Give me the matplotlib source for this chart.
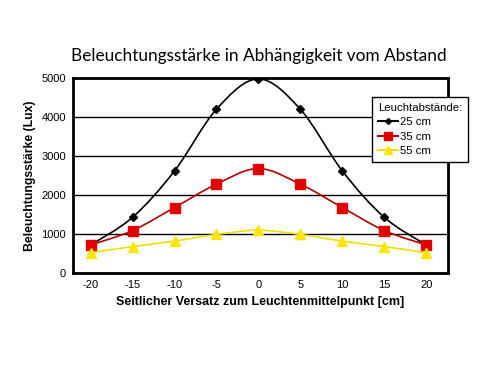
import matplotlib.pyplot as plt
import numpy as np
from matplotlib.path import Path
from matplotlib.patches import PathPatch

# data
versatz = [-20, -15, -10, -5, 0, 5, 10, 15, 20]
lux_25 = [720, 1430, 2620, 4200, 4980, 4200, 2620, 1430, 720]
lux_35 = [720, 1090, 1680, 2280, 2680, 2280, 1680, 1090, 720]
lux_55 = [520, 680, 820, 990, 1100, 990, 820, 680, 520]
labels = ["25 cm", "35 cm", "55 cm"]
yticks = [0, 1000, 2000, 3000, 4000, 5000]

plt.rcParams["axes.unicode_minus"] = False


def smooth_path(x, y, t=0.5):
    # Catmull-Rom -> cubic bezier, drawn by matplotlib's Path
    x = np.asarray(x, float)
    y = np.asarray(y, float)
    pts = np.column_stack([x, y])
    verts = [pts[0]]
    codes = [Path.MOVETO]
    n = len(pts)
    for i in range(n - 1):
        p0 = pts[max(i - 1, 0)]
        p1 = pts[i]
        p2 = pts[i + 1]
        p3 = pts[min(i + 2, n - 1)]
        c1 = p1 + (p2 - p0) * t / 3
        c2 = p2 - (p3 - p1) * t / 3
        verts += [c1, c2, p2]
        codes += [Path.CURVE4] * 3
    return Path(verts, codes)


fig = plt.figure(figsize=(5, 3.7), dpi=100)
ax = fig.add_axes([0.146, 0.262, 0.75, 0.527])

series = [
    (lux_25, "black", "black", "D", 4),
    (lux_35, "#b00000", "#e00000", "s", 7),
    (lux_55, "#f0e000", "#ffe600", "^", 7),
]
for (vals, lc, mc, mk, ms), lab in zip(series, labels):
    ax.add_patch(PathPatch(smooth_path(versatz, vals), fill=False, edgecolor=lc, lw=1.2, zorder=3))
    ax.plot(versatz, vals, ls="none", marker=mk, color=mc, ms=ms, zorder=4)
    ax.plot([], [], color=lc, marker=mk, mfc=mc, mec=mc, ms=ms - 1, label=lab)

ax.set_xlim(-22.1, 22.6)
ax.set_ylim(0, 5000)
ax.set_xticks(versatz)
ax.set_yticks(yticks)
ax.tick_params(length=0, labelsize=8, pad=5)
for lbl in ax.get_xticklabels() + ax.get_yticklabels():
    lbl.set_family("Liberation Sans")
ax.yaxis.grid(True, color="black", lw=1)
ax.set_axisbelow(True)
for s in ax.spines.values():
    s.set_linewidth(2)

ax.set_xlabel("Seitlicher Versatz zum Leuchtenmittelpunkt [cm]", fontsize=9,
              fontweight="bold", family="Liberation Sans", labelpad=4)
ax.set_ylabel("Beleuchtungsstärke (Lux)", fontsize=8.8, fontweight="bold",
              family="Liberation Sans", labelpad=4)
fig.text(0.518, 0.85, "Beleuchtungsstärke in Abhängigkeit vom Abstand",
         ha="center", va="center", fontsize=12.4, family="Lato")

leg = ax.legend(title="Leuchtabstände:", loc="upper left",
                bbox_to_anchor=(0.744, 0.738), bbox_transform=fig.transFigure,
                fancybox=False, framealpha=1, edgecolor="black",
                prop={"family": "Liberation Sans", "size": 8.2},
                handlelength=1.8, handletextpad=0.2, labelspacing=0.4,
                borderpad=0.5, borderaxespad=0)
leg.get_title().set_fontsize(8.2)
leg.get_title().set_family("Liberation Sans")
leg._legend_box.align = "left"
leg.get_frame().set_linewidth(1)
leg.set_zorder(10)

plt.savefig("out.png", dpi=100)
